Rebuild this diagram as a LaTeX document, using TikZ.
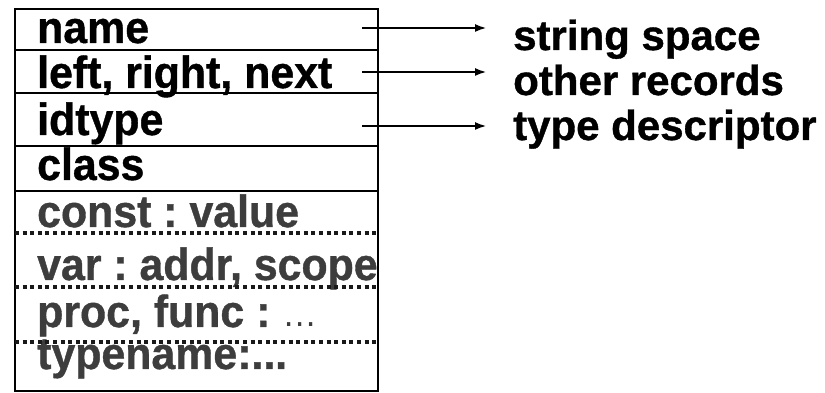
\documentclass[tikz,border=0pt]{standalone}
\usepackage{fontspec}
\usepackage{graphicx}
\setmainfont{Liberation Sans}
\newfontfamily\heavyfont{Liberation Sans Bold}[FakeBold=0.9]
\usetikzlibrary{arrows.meta}
\definecolor{graytext}{rgb}{0.24,0.24,0.24}
\newcommand{\tallbox}[1]{\scalebox{1.02}[1.07]{#1}}
\begin{document}
\frenchspacing
\begin{tikzpicture}[x=1pt,y=1pt,
  field/.style={anchor=base west,inner sep=0pt,font=\fontsize{42}{46}\heavyfont},
  grayfield/.style={field,text=graytext},
  target/.style={anchor=base west,inner sep=0pt,font=\fontsize{42}{46}\heavyfont},
  solidsep/.style={line width=2.6pt},
  dotsep/.style={line width=3.8pt,dash pattern=on 4pt off 3.6pt,color=black!90},
  ptr/.style={line width=2.8pt,-{Latex[length=12pt,width=8pt]}}]
\useasboundingbox (0,0) rectangle (825,393);
% texts
\node[field] (tname) at (37,350) {\tallbox{name}};
\node[field] (tlinks) at (37,305) {\tallbox{left, right, next}};
\node[field] (tidtype) at (37,258) {\tallbox{idtype}};
\node[field] (tclass) at (37,213) {\tallbox{class}};
\node[grayfield] (tconst) at (37,166) {\tallbox{const : value}};
\node[grayfield] (tvar) at (37,113) {\tallbox{var : addr, scope}};
\node[grayfield] (tproc) at (37,66) {\tallbox{proc, func : {\normalfont\fontsize{34}{40}\selectfont …}}};
\node[grayfield] (ttype) at (37,24) {\tallbox{typename:...}};
% box
\draw[line width=2.8pt] (15,384) rectangle (378,2);
\draw[solidsep] (15,343) -- (378,343);
\draw[solidsep] (15,300) -- (378,300);
\draw[solidsep] (15,247) -- (378,247);
\draw[solidsep] (15,202) -- (378,202);
\draw[dotsep] (15,160) -- (378,160);
\draw[dotsep] (15,106) -- (378,106);
\draw[dotsep] (15,51) -- (378,51);
% targets
\node[target] (tstring) at (513,343) {string space};
\node[target] (trecords) at (513,298) {other records};
\node[target] (tdesc) at (513,253) {type descriptor};
% arrows
\coordinate (s1) at (362,365);
\coordinate (e1) at (487,365);
\coordinate (s2) at (362,321);
\coordinate (e2) at (487,321);
\coordinate (s3) at (362,267);
\coordinate (e3) at (487,267);
\draw[ptr] (s1) -- (e1);
\draw[ptr] (s2) -- (e2);
\draw[ptr] (s3) -- (e3);
\end{tikzpicture}
\end{document}
